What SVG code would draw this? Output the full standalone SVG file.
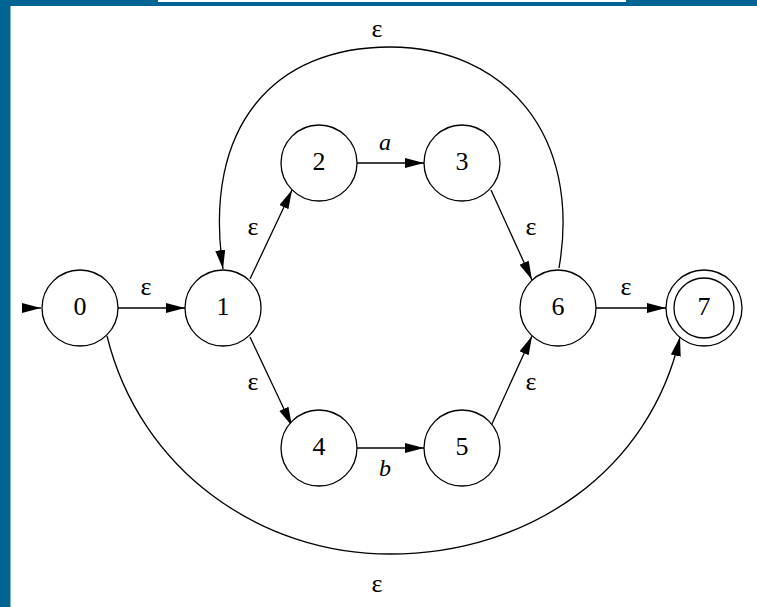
<svg xmlns="http://www.w3.org/2000/svg" width="757" height="607" viewBox="0 0 757 607">
<defs>
<marker id="ah" markerUnits="userSpaceOnUse" markerWidth="20" markerHeight="12" refX="19" refY="5" orient="auto">
<path d="M0,0 L19,5 L0,10 z" fill="#000"/>
</marker>
<style>
.n circle{fill:#fff;stroke:#000;stroke-width:1.3}
.n text{font-family:"Liberation Serif","Times New Roman",serif;font-size:26px;text-anchor:middle}
.e path,.e line{fill:none;stroke:#000;stroke-width:1.3;marker-end:url(#ah)}
.lb{font-family:"Liberation Serif","Times New Roman",serif;font-size:26px;text-anchor:middle}
.it{font-style:italic;font-size:24px}
</style>
</defs>
<rect x="0" y="0" width="757" height="607" fill="#fff"/>
<rect x="0" y="0" width="757" height="6" fill="#006494"/>
<rect x="0" y="0" width="10.5" height="607" fill="#006494"/>
<rect x="158" y="0" width="468" height="2" fill="#fff"/>
<g id="connectors" class="e">
<line x1="22" y1="308" x2="41" y2="308"/>
<line x1="118" y1="308" x2="185" y2="308"/>
<line x1="250" y1="279" x2="292" y2="190"/>
<line x1="250" y1="337" x2="292" y2="426"/>
<line x1="357" y1="163" x2="424" y2="163"/>
<line x1="357" y1="448" x2="424" y2="448"/>
<line x1="491" y1="190" x2="532" y2="280"/>
<line x1="491" y1="426" x2="532" y2="336"/>
<line x1="596" y1="308" x2="666" y2="308"/>
<path d="M559,268 C582,135 505,47 390,47 C275,47 202,125 223,269"/>
<path d="M107,336 C140,470 260,554 390,554 C530,554 650,470 680,337"/>
</g>
<g id="labels">
<text class="lb" x="146" y="295">ε</text>
<text class="lb" x="253" y="235">ε</text>
<text class="lb" x="253" y="390">ε</text>
<text class="lb" x="531" y="235">ε</text>
<text class="lb" x="531" y="390">ε</text>
<text class="lb" x="626" y="295">ε</text>
<text class="lb" x="377" y="37">ε</text>
<text class="lb" x="377" y="592">ε</text>
<text class="lb it" x="385" y="150">a</text>
<text class="lb it" x="385" y="476">b</text>
</g>
<g id="node0" class="n"><circle cx="80" cy="308" r="38"/><text x="80" y="315">0</text></g>
<g id="node1" class="n"><circle cx="223" cy="308" r="38"/><text x="223" y="315">1</text></g>
<g id="node2" class="n"><circle cx="319" cy="163" r="38"/><text x="319" y="170">2</text></g>
<g id="node3" class="n"><circle cx="462" cy="163" r="38"/><text x="462" y="170">3</text></g>
<g id="node4" class="n"><circle cx="319" cy="448" r="38"/><text x="319" y="455">4</text></g>
<g id="node5" class="n"><circle cx="462" cy="448" r="38"/><text x="462" y="455">5</text></g>
<g id="node6" class="n"><circle cx="558" cy="308" r="38"/><text x="558" y="315">6</text></g>
<g id="node7" class="n"><circle cx="704" cy="308" r="38"/><circle cx="704" cy="308" r="30"/><text x="704" y="315">7</text></g>
</svg>
